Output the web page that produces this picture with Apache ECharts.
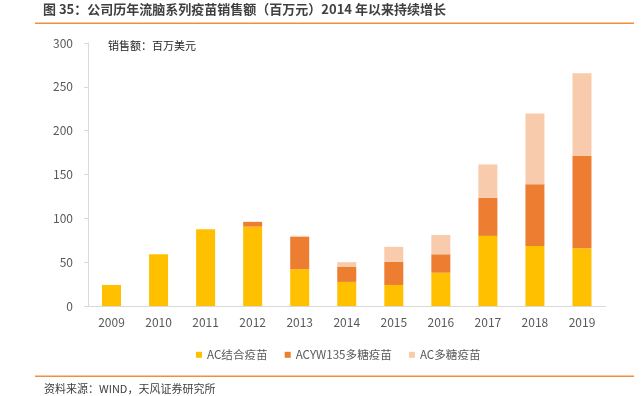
<!DOCTYPE html>
<html>
<head>
<meta charset="utf-8">
<script src="https://cdn.jsdelivr.net/npm/echarts@6/dist/echarts.min.js"></script>
<style>html,body{margin:0;padding:0;background:#fff;}#c{width:644px;height:396px;}</style>
</head>
<body>
<div id="c"></div>
<script>
var years = ['2009','2010','2011','2012','2013','2014','2015','2016','2017','2018','2019'];
var acConjugate = [24, 59, 87.5, 90.5, 42, 27.5, 24, 38, 80, 68.5, 66];
var acyw135 = [0, 0, 0, 5.5, 37, 17, 26.5, 21, 43.5, 70.5, 105];
var acPolysaccharide = [0, 0, 0, 0, 1, 5.5, 17, 22, 38, 80.5, 94.5];
var seriesNames = ['AC结合疫苗', 'ACYW135多糖疫苗', 'AC多糖疫苗'];
var yTicks = {min: 0, max: 300, interval: 50};

var FONT = '"Noto Sans CJK SC", "Noto Sans", sans-serif';
var chart = echarts.init(document.getElementById('c'), null, {renderer: 'canvas'});
var colors = ['#FFC000', '#ED7D31', '#F8CBAD'];
var dataSets = [acConjugate, acyw135, acPolysaccharide];

chart.setOption({
  animation: false,
  textStyle: {fontFamily: FONT},
  grid: {left: 88, right: 38.5, top: 43, bottom: 90},
  legend: {
    left: 191, top: 344,
    icon: 'rect', itemWidth: 6, itemHeight: 6, itemGap: 17,
    textStyle: {color: '#595959', fontSize: 11.6, fontFamily: FONT},
    data: seriesNames
  },
  xAxis: {
    type: 'category', data: years,
    axisLine: {lineStyle: {color: '#D9D9D9', width: 1}},
    axisTick: {show: false},
    axisLabel: {color: '#595959', fontSize: 12, margin: 10, fontFamily: FONT}
  },
  yAxis: {
    type: 'value', min: yTicks.min, max: yTicks.max, interval: yTicks.interval,
    axisLine: {show: true, lineStyle: {color: '#D9D9D9', width: 1}},
    axisTick: {show: true, length: 4, lineStyle: {color: '#D9D9D9'}},
    splitLine: {show: false},
    axisLabel: {color: '#595959', fontSize: 12, margin: 15, fontFamily: FONT}
  },
  series: dataSets.map(function (d, i) {
    return {
      name: seriesNames[i], type: 'bar', stack: 'total', data: d,
      barWidth: 19, itemStyle: {color: colors[i]}
    };
  }),
  graphic: [
    {type: 'text', left: 43, top: 3, style: {text: '图 35：公司历年流脑系列疫苗销售额（百万元）2014 年以来持续增长', fill: '#404040', font: 'bold 13px ' + FONT}},
    {type: 'rect', shape: {x: 35, y: 22.5, width: 599, height: 1.5}, style: {fill: '#F0903A'}},
    {type: 'text', left: 108, top: 40, style: {text: '销售额：百万美元', fill: '#262626', font: '11px ' + FONT}},
    {type: 'rect', shape: {x: 35, y: 375.5, width: 599, height: 1.5}, style: {fill: '#F0903A'}},
    {type: 'text', left: 44, top: 383, style: {text: '资料来源：WIND，天风证券研究所', fill: '#404040', font: '11px ' + FONT}}
  ]
});
</script>
</body>
</html>
